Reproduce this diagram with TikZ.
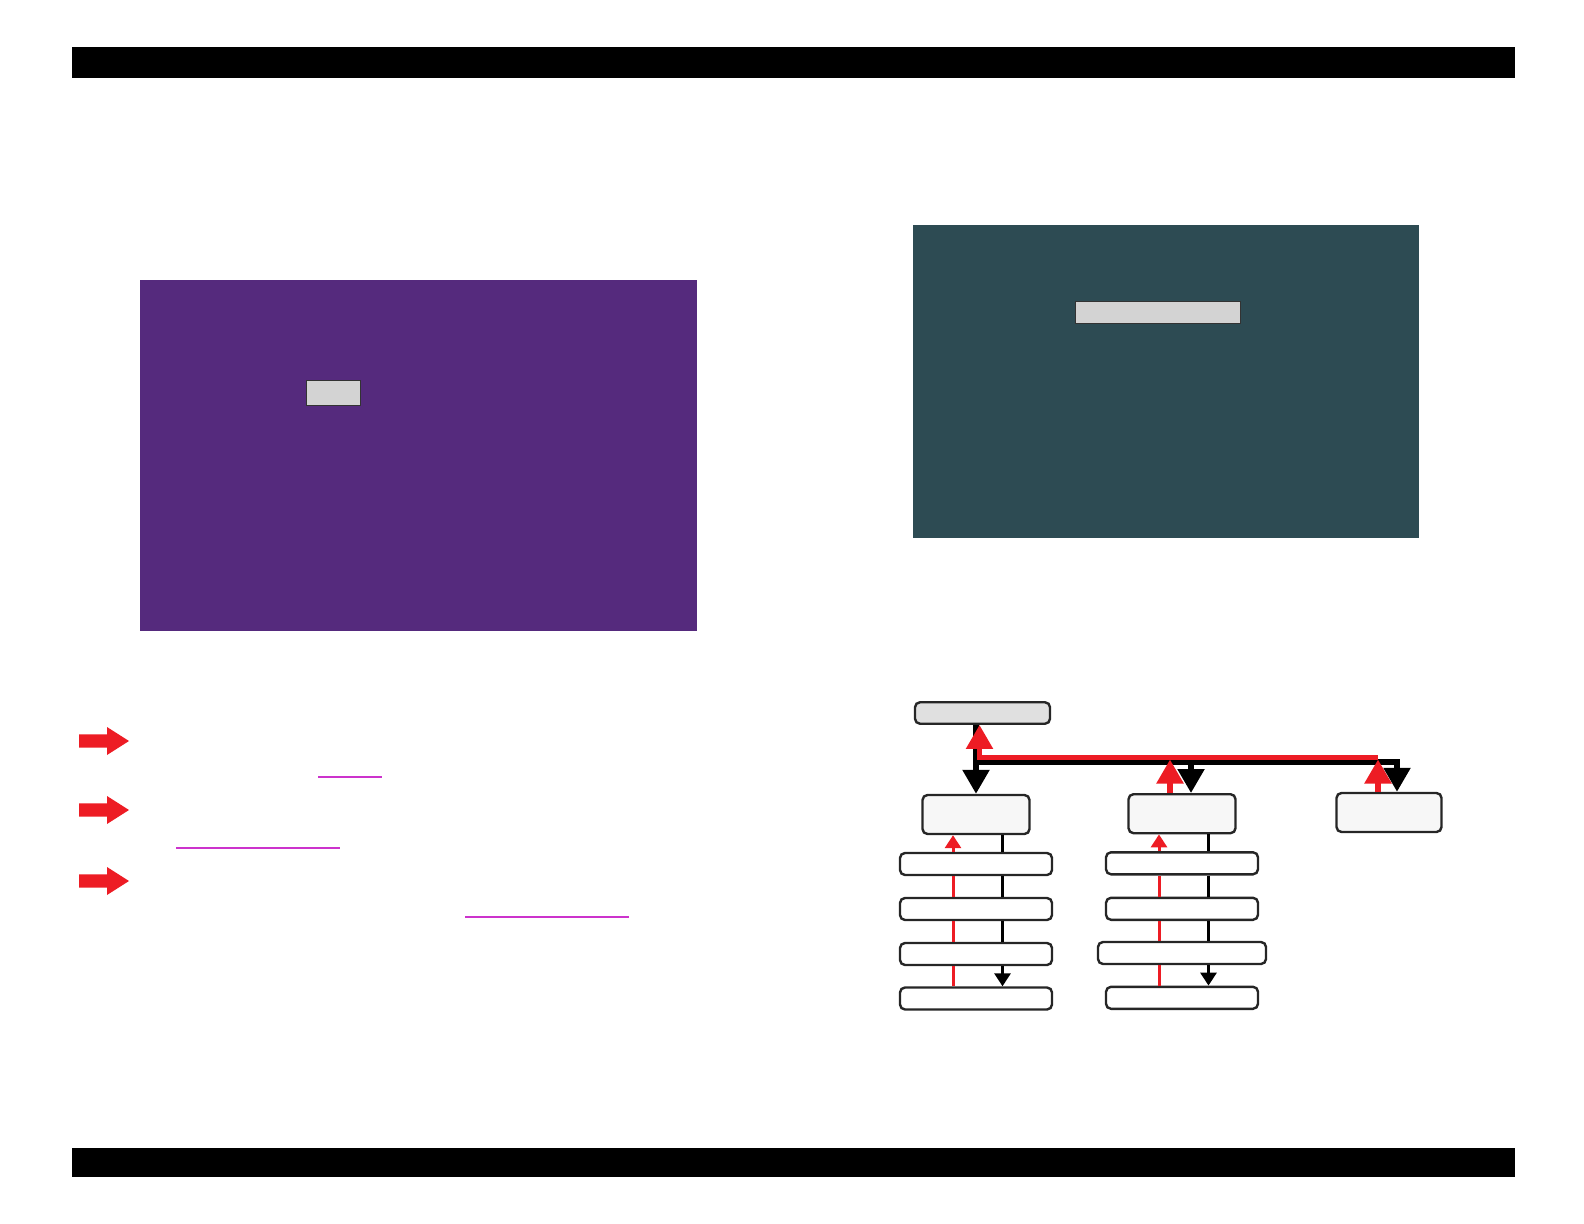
\documentclass[tikz,border=0pt]{standalone}
\usepackage{tikz}
\usetikzlibrary{arrows.meta}
\definecolor{panelpurple}{RGB}{85,42,125}
\definecolor{panelteal}{RGB}{45,75,83}
\definecolor{flowred}{RGB}{237,28,36}
\definecolor{linkpink}{RGB}{204,51,204}
\definecolor{boxgray}{RGB}{211,211,211}

\begin{document}
\begin{tikzpicture}[x=0.5pt,y=-0.5pt]
            \tikzstyle{bar}=[fill=black]
            \tikzstyle{screen}=[rectangle,draw=black!80,line width=0.6pt,fill=boxgray,inner sep=0pt]
            \tikzstyle{box}=[rectangle,rounded corners=2.5pt,draw=black!85,line width=1.2pt,fill=white,minimum height=11pt,inner sep=0pt]
            \tikzstyle{bigbox}=[box,fill=black!3,minimum width=53.5pt,minimum height=19.5pt]
            \tikzstyle{rowbox}=[box,minimum width=76pt]
            \tikzstyle{bus}=[line width=2.7pt]
            \tikzstyle{bighead}=[-{Triangle[width=13pt,length=12pt]}]
            \tikzstyle{thin}=[line width=1.5pt]
            \tikzstyle{smallhead}=[-{Triangle[width=8pt,length=6.5pt]}]

                    \useasboundingbox (0,0) rectangle (1584,1224);
                    \fill[bar] (72,47.5) rectangle (1515,78);
                    \fill[bar] (72,1148) rectangle (1515,1177);

                    % screens
                    \fill[panelpurple] (140,280) rectangle (697,631);
                    \node[screen,minimum width=26.8pt,minimum height=12.2pt] (S-0) at (333.5,393) {};
                    \fill[panelteal] (913,225) rectangle (1419,538);
                    \node[screen,minimum width=82.5pt,minimum height=10.8pt] (S-1) at (1157.8,312.5) {};

                    % pointers and links
                \foreach \y in {741,810,881}
                    \fill[flowred] (79,\y-6.7) -- (107,\y-6.7) -- (107,\y-14) -- (129,\y) -- (107,\y+14) -- (107,\y+6.7) -- (79,\y+6.7) -- cycle;
                    \draw[linkpink,line width=1.2pt] (318,777) -- (382,777);
                    \draw[linkpink,line width=0.7pt] (176,848) -- (340,848);
                    \draw[linkpink,line width=1.2pt] (465,917) -- (629,917);

                    % flow
                    \node[box,fill=black!12,minimum width=67.5pt,minimum height=10.75pt] (top) at (982.5,713) {};
                    \node[bigbox] (L-0) at (976,814.5) {};
                    \node[bigbox] (M-0) at (1182,813.7) {};
                    \node[bigbox,minimum width=52.5pt] (R-0) at (1389,812.5) {};
                \foreach \i/\y in {1/864,2/909,3/954,4/998.5}
                    \node[rowbox] (L-\i) at (976,\y) {};
                \foreach \i/\y in {1/863.3,2/908.8,4/997.8}
                    \node[rowbox] (M-\i) at (1182,\y) {};
                    \node[rowbox,minimum width=84pt] (M-3) at (1182,953) {};

                    \coordinate (J-0) at (976,762);
                    \coordinate (J-1) at (979.5,757.5);
                    \coordinate (M-in) at ([xshift=4.5pt]M-0.north);
                    \coordinate (R-in) at ([xshift=4pt]R-0.north);
                    \coordinate (M-out) at ([xshift=-6pt]M-0.north);
                    \coordinate (R-out) at ([xshift=-5.5pt]R-0.north);

                    \draw[bus,bighead] (top.south -| L-0.north) -- (L-0.north);
                    \draw[bus,bighead] (J-0) -| (R-in);
                    \draw[bus,bighead] (M-in |- J-0) -- (M-in);
                    \draw[flowred,bus,bighead] (R-out |- J-1) -- (J-1) -- (J-1 |- top.south);
                \foreach \p in {M-out,R-out}
                    \draw[flowred,bus,bighead] (\p) -- ([yshift=-1pt]\p |- J-1);

                \foreach \c in {L,M} {
                \foreach \from/\to in {0/1,1/2,2/3}
                    \draw[thin] ([xshift=13.25pt]\c-\from.south) -- ([xshift=13.25pt]\c-\to.north);
                    \draw[thin,smallhead] ([xshift=13.25pt]\c-3.south) -- ([xshift=13.25pt]\c-4.north);
                \foreach \from/\to in {4/3,3/2,2/1}
                    \draw[flowred,thin] ([xshift=-11.5pt]\c-\from.north) -- ([xshift=-11.5pt]\c-\to.south);
                    \draw[flowred,thin,smallhead] ([xshift=-11.5pt]\c-1.north) -- ([xshift=-11.5pt]\c-0.south);
                }
\end{tikzpicture}
\end{document}
